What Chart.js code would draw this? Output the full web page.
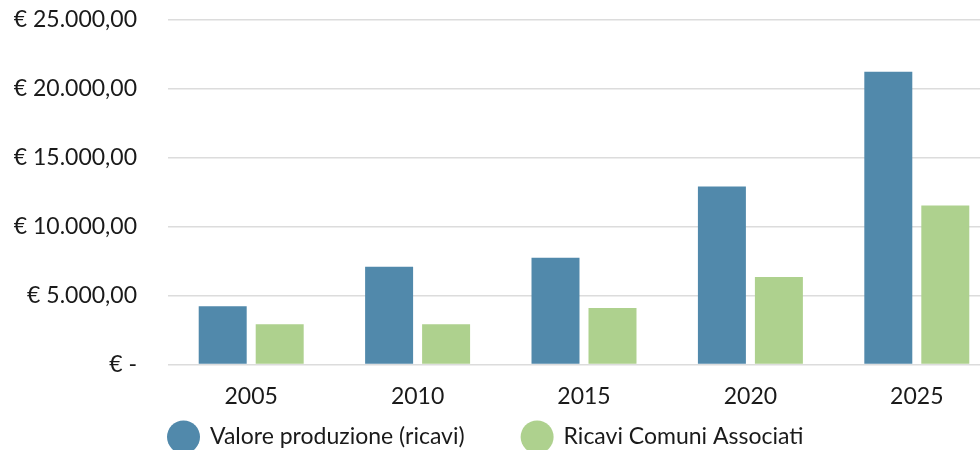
<!DOCTYPE html>
<html>
<head>
<meta charset="utf-8">
<script src="https://cdn.jsdelivr.net/npm/chart.js@4/dist/chart.umd.min.js"></script>
<style>
  html, body { margin: 0; padding: 0; background: #fff; overflow: hidden; }
  #wrap { width: 1000px; height: 450px; position: relative; }
</style>
</head>
<body>
<div id="wrap"><canvas id="barChart"></canvas></div>
<script>
var anni = ['2005', '2010', '2015', '2020', '2025'];
var valoreProduzione = [4230, 7080, 7740, 12920, 21240];
var ricaviComuni = [2920, 2920, 4090, 6350, 11530];
var tickValori = [0, 5000, 10000, 15000, 20000, 25000];

function euro(v) {
    if (v === 0) return '€ -';
    var s = Math.round(v).toString().replace(/\B(?=(\d{3})+(?!\d))/g, '.');
    return '€ ' + s + ',00';
}

// legenda disegnata a mano: cerchi grandi, allineata a sinistra sotto l'asse
var legendaSotto = {
    id: 'legendaSotto',
    afterDraw: function (chart) {
        var ctx = chart.ctx;
        var x = chart.chartArea.left - 1;
        var y = 437;
        var r = 16.5;
        ctx.save();
        ctx.font = '23px Lato, "Open Sans", sans-serif';
        ctx.textBaseline = 'middle';
        chart.data.datasets.forEach(function (ds) {
            ctx.fillStyle = ds.backgroundColor;
            ctx.beginPath();
            ctx.arc(x + r, y, r, 0, Math.PI * 2);
            ctx.fill();
            ctx.fillStyle = '#1a1a1a';
            ctx.fillText(ds.label, x + 43, y);
            x += 43 + ctx.measureText(ds.label).width + 56;
        });
        ctx.restore();
    }
};

Chart.defaults.font.family = 'Lato, "Open Sans", sans-serif';
Chart.defaults.color = '#1a1a1a';

var ctxBar = document.getElementById('barChart').getContext('2d');
var barChart = new Chart(ctxBar, {
    type: 'bar',
    data: {
        labels: anni,
        datasets: [{
            label: 'Valore produzione (ricavi)',
            data: valoreProduzione,
            backgroundColor: '#5189ab',
            categoryPercentage: 0.685,
            barPercentage: 0.842
        }, {
            label: 'Ricavi Comuni Associati',
            data: ricaviComuni,
            backgroundColor: '#aed18e',
            categoryPercentage: 0.685,
            barPercentage: 0.842
        }]
    },
    options: {
        responsive: true,
        maintainAspectRatio: false,
        animation: false,
        layout: { padding: { top: 20, right: 0, left: 0, bottom: 30 } },
        scales: {
            x: {
                grid: { display: false },
                border: { display: false },
                ticks: { font: { size: 23 }, padding: 10 }
            },
            y: {
                min: 0,
                max: 25000,
                afterBuildTicks: function (axis) {
                    axis.ticks = tickValori.map(function (v) { return { value: v }; });
                },
                afterFit: function (axis) {
                    axis.width = 168;
                    axis.paddingTop = 0;
                    axis.paddingBottom = 0;
                },
                grid: { color: '#dcdcdc', lineWidth: 1.5, drawTicks: false },
                border: { display: false },
                ticks: {
                    font: { size: 23 },
                    padding: 31,
                    callback: function (v) { return euro(v); }
                }
            }
        },
        plugins: {
            tooltip: { enabled: false },
            legend: { display: false }
        }
    },
    plugins: [legendaSotto]
});
</script>
</body>
</html>
